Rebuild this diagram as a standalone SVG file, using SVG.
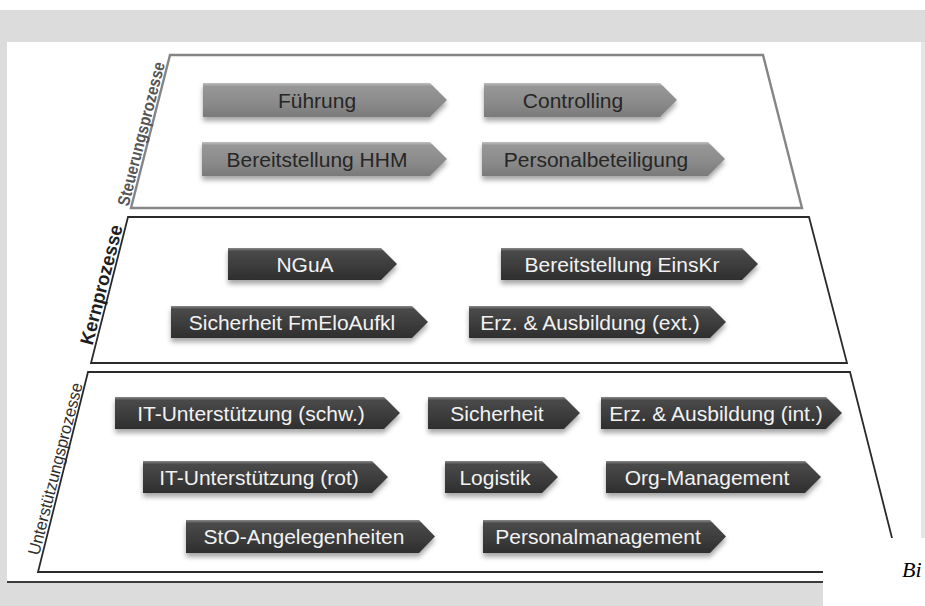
<svg xmlns="http://www.w3.org/2000/svg" width="925" height="606" viewBox="0 0 925 606">
  <style>
    .frame-top { fill: #ffffff; stroke: #858585; stroke-width: 2.4; }
    .frame { fill: #ffffff; stroke: #2a2a2a; stroke-width: 1.8; }
    .lbl { font-family: "Liberation Sans", Arial, sans-serif; }
    .t-gray { font-family: "Liberation Sans", Arial, sans-serif; font-size: 21px; fill: #262626; text-anchor: middle; }
    .t-dark { font-family: "Liberation Sans", Arial, sans-serif; font-size: 21px; fill: #f2f2f2; text-anchor: middle; }
    .a-gray { fill: url(#gGray); filter: url(#shadow); }
    .a-dark { fill: url(#gDark); filter: url(#shadow); }
  </style>
  <defs>
    <linearGradient id="gGray" x1="0" y1="0" x2="0" y2="1">
      <stop offset="0" stop-color="#c0c0c0"/>
      <stop offset="0.1" stop-color="#979797"/>
      <stop offset="0.6" stop-color="#8a8a8a"/>
      <stop offset="1" stop-color="#7a7a7a"/>
    </linearGradient>
    <linearGradient id="gDark" x1="0" y1="0" x2="0" y2="1">
      <stop offset="0" stop-color="#8a8a8a"/>
      <stop offset="0.1" stop-color="#4a4a4a"/>
      <stop offset="0.6" stop-color="#3b3b3b"/>
      <stop offset="1" stop-color="#2e2e2e"/>
    </linearGradient>
    <filter id="shadow" x="-10%" y="-30%" width="120%" height="170%">
      <feDropShadow dx="0" dy="4" stdDeviation="2.5" flood-color="#000" flood-opacity="0.35"/>
    </filter>
  </defs>

  <!-- page background -->
  <rect x="0" y="0" width="925" height="606" fill="#dcdcdc"/>
  <rect x="0" y="0" width="925" height="10" fill="#ffffff"/>
  <rect x="7" y="42" width="914" height="540" fill="#ffffff"/>
  <rect x="921" y="42" width="4" height="496" fill="#e6e6e6"/>

  <!-- layer frames -->
  <g id="layers">
    <polygon id="layer-steuerung" class="frame-top" points="170,55 763,55 802,208 131,208"/>
    <polygon id="layer-kern" class="frame" points="128,217 809,217 847,363 91,363"/>
    <polygon id="layer-unterstuetzung" class="frame" points="88,372 850,372 900.6,572 38,572"/>
  </g>
  <line x1="7" y1="582" x2="823" y2="582" stroke="#3a3a3a" stroke-width="2"/>

  <!-- layer captions, running up the slanted left edges -->
  <g id="captions">
    <text class="lbl" transform="translate(128.5,207) rotate(-75.7)" font-size="17" font-weight="bold" fill="#555555" textLength="148" lengthAdjust="spacingAndGlyphs">Steuerungsprozesse</text>
    <text class="lbl" transform="translate(92.5,346) rotate(-75.7)" font-size="19" font-weight="bold" fill="#1e1e1e" textLength="123" lengthAdjust="spacingAndGlyphs">Kernprozesse</text>
    <text class="lbl" transform="translate(39,556) rotate(-75.7)" font-size="17" fill="#2e2e2e" textLength="177" lengthAdjust="spacingAndGlyphs">Unterstützungsprozesse</text>
  </g>

  <!-- Steuerungsprozesse -->
  <g id="fuehrung">
    <path class="a-gray" d="M203,83 H430 L447,100 L430,117 H203 Z"/>
    <text class="t-gray" x="317" y="107.5">Führung</text>
  </g>
  <g id="controlling">
    <path class="a-gray" d="M484,83 H660 L677,100 L660,117 H484 Z"/>
    <text class="t-gray" x="573" y="107.5">Controlling</text>
  </g>
  <g id="bereitstellung-hhm">
    <path class="a-gray" d="M202,142 H430 L447,159 L430,176 H202 Z"/>
    <text class="t-gray" x="317" y="166.5">Bereitstellung HHM</text>
  </g>
  <g id="personalbeteiligung">
    <path class="a-gray" d="M482,142 H708 L725,159 L708,176 H482 Z"/>
    <text class="t-gray" x="596" y="166.5">Personalbeteiligung</text>
  </g>

  <!-- Kernprozesse -->
  <g id="ngua">
    <path class="a-dark" d="M228,248 H381 L397,264 L381,280 H228 Z"/>
    <text class="t-dark" x="305" y="271.5">NGuA</text>
  </g>
  <g id="bereitstellung-einskr">
    <path class="a-dark" d="M501,248 H742 L758,264 L742,280 H501 Z"/>
    <text class="t-dark" x="622" y="271.5">Bereitstellung EinsKr</text>
  </g>
  <g id="sicherheit-fmeloaufkl">
    <path class="a-dark" d="M171,306 H412 L428,322 L412,338 H171 Z"/>
    <text class="t-dark" x="292" y="329.5">Sicherheit FmEloAufkl</text>
  </g>
  <g id="erz-ausbildung-ext">
    <path class="a-dark" d="M469,306 H710 L726,322 L710,338 H469 Z"/>
    <text class="t-dark" x="590" y="329.5">Erz. &amp; Ausbildung (ext.)</text>
  </g>

  <!-- Unterstützungsprozesse -->
  <g id="it-unterstuetzung-schw">
    <path class="a-dark" d="M115,397 H384 L400,413 L384,429 H115 Z"/>
    <text class="t-dark" x="251" y="420.5">IT-Unterstützung (schw.)</text>
  </g>
  <g id="sicherheit">
    <path class="a-dark" d="M428,397 H564 L580,413 L564,429 H428 Z"/>
    <text class="t-dark" x="497" y="420.5">Sicherheit</text>
  </g>
  <g id="erz-ausbildung-int">
    <path class="a-dark" d="M601,397 H826 L842,413 L826,429 H601 Z"/>
    <text class="t-dark" x="716" y="420.5">Erz. &amp; Ausbildung (int.)</text>
  </g>
  <g id="it-unterstuetzung-rot">
    <path class="a-dark" d="M143,461 H372 L388,477 L372,493 H143 Z"/>
    <text class="t-dark" x="259" y="484.5">IT-Unterstützung (rot)</text>
  </g>
  <g id="logistik">
    <path class="a-dark" d="M445,461 H542 L558,477 L542,493 H445 Z"/>
    <text class="t-dark" x="495" y="484.5">Logistik</text>
  </g>
  <g id="org-management">
    <path class="a-dark" d="M606,461 H805 L821,477 L805,493 H606 Z"/>
    <text class="t-dark" x="707" y="484.5">Org-Management</text>
  </g>
  <g id="sto-angelegenheiten">
    <path class="a-dark" d="M186,520 H419 L435,536.5 L419,553 H186 Z"/>
    <text class="t-dark" x="304" y="544">StO-Angelegenheiten</text>
  </g>
  <g id="personalmanagement">
    <path class="a-dark" d="M483,520 H710 L726,536.5 L710,553 H483 Z"/>
    <text class="t-dark" x="598" y="544">Personalmanagement</text>
  </g>

  <!-- adjoining page corner -->
  <rect x="823" y="538" width="102" height="68" fill="#ffffff"/>
  <text x="902" y="577" font-family="'Liberation Serif', 'Times New Roman', serif" font-style="italic" font-size="22" fill="#000000">Bi</text>
</svg>
